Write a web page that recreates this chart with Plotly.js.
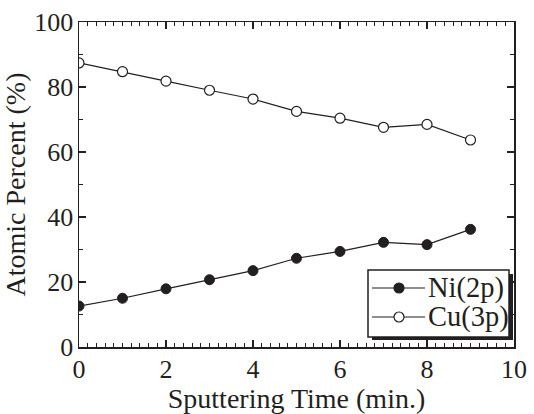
<!DOCTYPE html>
<html><head><meta charset="utf-8">
<script src="https://cdn.plot.ly/plotly-3.0.1.min.js"></script>
<style>body{margin:0;background:#fff}#g{width:534px;height:414px}</style>
</head><body><div id="g"></div>
<script>
const time = [0,1,2,3,4,5,6,7,8,9];
const ni = [12.6,15.0,17.9,20.7,23.5,27.3,29.4,32.2,31.5,36.2];
const cu = [87.4,84.7,81.8,79.0,76.3,72.5,70.4,67.6,68.5,63.7];
const names = ['Ni(2p)','Cu(3p)'];

const ink = '#231f20';
const font = {family:'"Liberation Serif", "Times New Roman", serif', color:ink};
const W=534,H=414,L=79,R=20,T=22,B=67;
const pw=W-L-R, ph=H-T-B;
const px = v => (v-L)/pw, py = v => 1-(v-T)/ph;

const traces = [
 {x:time,y:ni,name:names[0],mode:'lines+markers',line:{color:ink,width:1.2},
  marker:{symbol:'circle',size:10,color:ink,line:{color:ink,width:1}}},
 {x:time,y:cu,name:names[1],mode:'lines+markers',line:{color:ink,width:1.2},
  marker:{symbol:'circle',size:10,color:'#fff',line:{color:ink,width:1.2}}}
];
const ax = {showline:true,linecolor:ink,linewidth:1.5,mirror:'ticks',ticks:'inside',
  tickcolor:ink,ticklen:7,tickwidth:1.2,showgrid:false,zeroline:false,
  tickfont:{...font,size:26}};

// hand-drawn legend (box with drop shadow)
const shapes = [
 {type:'rect',xref:'paper',yref:'paper',x0:px(372),x1:px(513),y0:py(340),y1:py(274),fillcolor:ink,line:{width:0},layer:'above'},
 {type:'rect',xref:'paper',yref:'paper',x0:px(368),x1:px(509),y0:py(337),y1:py(270),fillcolor:'#fff',line:{color:ink,width:1.5},layer:'above'}
];
const annotations = [];
const rowY = [288,317];
traces.forEach((t,i)=>{
  const yy = py(rowY[i]);
  shapes.push({type:'line',xref:'paper',yref:'paper',x0:px(372),x1:px(425),y0:yy,y1:yy,line:{color:ink,width:1.2},layer:'above'});
  shapes.push({type:'circle',xref:'paper',yref:'paper',xsizemode:'pixel',ysizemode:'pixel',
    xanchor:px(399),yanchor:yy,x0:-5,x1:5,y0:-5,y1:5,fillcolor:t.marker.color,line:{color:ink,width:1.2},layer:'above'});
  annotations.push({xref:'paper',yref:'paper',x:px(426),y:yy,xanchor:'left',yanchor:'middle',showarrow:false,
    text:t.name,font:{...font,size:28.5}});
});

const layout = {
 width:W,height:H,margin:{l:L,r:R,t:T,b:B},paper_bgcolor:'#fff',plot_bgcolor:'#fff',
 font:font,showlegend:false,
 xaxis:{...ax,range:[0,10],dtick:2,tick0:0,minor:{dtick:0.2,ticks:'inside',ticklen:4,tickcolor:ink,tickwidth:1},
   ticklabelstandoff:-2,
   title:{text:'Sputtering Time (min.)',font:{...font,size:28},standoff:0}},
 yaxis:{...ax,range:[0,100],dtick:20,tick0:0,minor:{dtick:10,ticks:'inside',ticklen:4,tickcolor:ink,tickwidth:1},
   ticklabelstandoff:-1,
   title:{text:'Atomic Percent (%)',font:{...font,size:28},standoff:2}},
 shapes:shapes, annotations:annotations
};
Plotly.newPlot('g',traces,layout,{displayModeBar:false,staticPlot:true});
</script></body></html>
